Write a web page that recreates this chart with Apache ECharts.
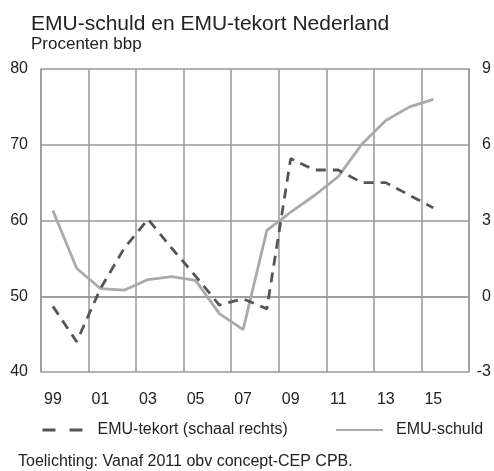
<!DOCTYPE html>
<html>
<head>
<meta charset="utf-8">
<script src="https://cdn.jsdelivr.net/npm/echarts@6/dist/echarts.min.js"></script>
<style>
  html, body { margin: 0; padding: 0; background: #fff; }
  #chart { width: 494px; height: 471px; }
</style>
</head>
<body>
<div id="chart"></div>
<script>
// jaren (laatste categorie leeg, alleen voor de laatste kolom)
var years = ['99', '00', '01', '02', '03', '04', '05', '06', '07', '08',
  '09', '10', '11', '12', '13', '14', '15', '16']
// EMU-schuld, linker as
var schuld = [61.3, 53.7, 51.0, 50.8, 52.2, 52.6, 52.1, 47.7, 45.6, 58.7,
  61.1, 63.3, 65.8, 70.1, 73.2, 75.0, 76.0]
// EMU-tekort, rechter as
var tekort = [-0.4, -1.8, 0.3, 1.9, 3.05, 1.9, 0.8, -0.35, -0.1, -0.5,
  5.45, 5.0, 5.0, 4.5, 4.5, 4.0, 3.5]

var font = "'Liberation Sans', Arial, sans-serif"
var gridColor = '#999999'

var myChart = echarts.init(document.getElementById('chart'))
var option = {
  animation: false,
  backgroundColor: '#ffffff',
  title: [
    {
      text: 'EMU-schuld en EMU-tekort Nederland',
      left: 31, top: 14, padding: 0,
      textStyle: { fontFamily: font, fontSize: 21, fontWeight: 'normal', color: '#222' }
    },
    {
      text: 'Procenten bbp',
      left: 31, top: 36, padding: 0,
      textStyle: { fontFamily: font, fontSize: 17, fontWeight: 'normal', color: '#222' }
    },
    {
      text: 'Toelichting: Vanaf 2011 obv concept-CEP CPB.',
      left: 18, top: 454, padding: 0,
      textStyle: { fontFamily: font, fontSize: 16, fontWeight: 'normal', color: '#222' }
    }
  ],
  legend: [
    {
      data: ['EMU-tekort (schaal rechts)'],
      left: 41, top: 422, padding: 0,
      itemWidth: 40, itemHeight: 14,
      itemStyle: { opacity: 0 },
      lineStyle: { type: [13, 14], width: 3 },
      textStyle: { fontFamily: font, fontSize: 16, color: '#222', padding: [0, 0, 0, 10] }
    },
    {
      data: ['EMU-schuld'],
      left: 335, top: 422, padding: 0,
      itemWidth: 47, itemHeight: 14,
      itemStyle: { opacity: 0 },
      textStyle: { fontFamily: font, fontSize: 16, color: '#222', padding: [0, 0, 0, 8] }
    }
  ],
  grid: { left: 41, right: 23, top: 69, bottom: 99 },
  xAxis: {
    type: 'category',
    data: years,
    boundaryGap: true,
    axisLine: { show: true, lineStyle: { color: gridColor, width: 1.5 } },
    axisTick: { show: false },
    axisLabel: { interval: 1, margin: 20, fontFamily: font, fontSize: 16, color: '#222' },
    splitLine: { show: true, interval: 1, lineStyle: { color: gridColor, width: 1.5 } }
  },
  yAxis: [
    {
      type: 'value', min: 40, max: 80, interval: 10,
      axisLine: { show: true, lineStyle: { color: gridColor, width: 1.5 } },
      axisTick: { show: false },
      axisLabel: { margin: 13, fontFamily: font, fontSize: 16, color: '#222' },
      splitLine: { show: true, lineStyle: { color: gridColor, width: 1.5 } }
    },
    {
      type: 'value', min: -3, max: 9, interval: 3,
      position: 'right',
      axisLine: { show: true, lineStyle: { color: gridColor, width: 1.5 } },
      axisTick: { show: false },
      axisLabel: { margin: 22, align: 'right', fontFamily: font, fontSize: 16, color: '#222' },
      splitLine: { show: false }
    }
  ],
  series: [
    {
      name: 'EMU-schuld',
      type: 'line',
      yAxisIndex: 0,
      data: schuld,
      symbol: 'none',
      color: '#aaaaaa',
      lineStyle: { color: '#aaaaaa', width: 2.8 }
    },
    {
      name: 'EMU-tekort (schaal rechts)',
      type: 'line',
      yAxisIndex: 1,
      data: tekort,
      symbol: 'none',
      color: '#555555',
      lineStyle: { color: '#555555', width: 2.8, type: [10, 7] }
    }
  ]
}
myChart.setOption(option)
</script>
</body>
</html>
